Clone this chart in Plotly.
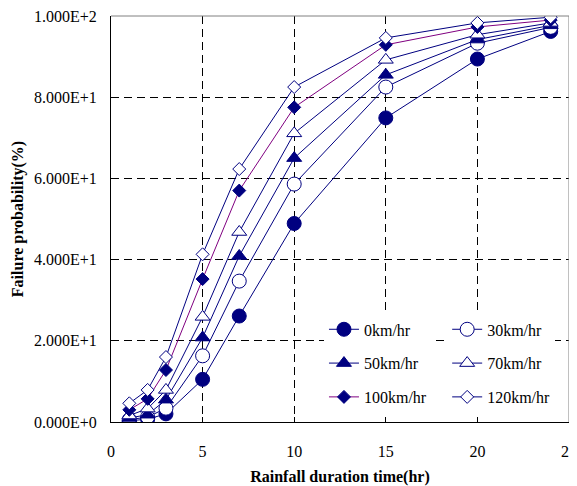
import plotly.graph_objects as go

hours = [1, 2, 3, 5, 7, 10, 15, 20, 24]
p_0 = [0.3, 0.7, 2.0, 10.5, 26.1, 48.9, 74.9, 89.4, 96.2]
p_30 = [0.6, 1.2, 3.4, 16.3, 34.7, 58.6, 82.5, 93.3, 97.2]
p_50 = [1.0, 1.8, 5.5, 20.8, 40.9, 65.0, 85.5, 94.2, 97.7]
p_70 = [1.6, 3.3, 7.9, 25.9, 46.8, 71.1, 89.2, 95.4, 98.3]
p_100 = [3.0, 5.7, 12.8, 35.2, 57.0, 77.5, 92.9, 97.3, 99.0]
p_120 = [4.6, 7.9, 16.0, 41.3, 62.3, 82.5, 94.6, 98.3, 99.7]
names = ["0km/hr", "30km/hr", "50km/hr", "70km/hr", "100km/hr", "120km/hr"]
y_ticks = [0, 20, 40, 60, 80, 100]
y_tick_labels = ["0.000E+0", "2.000E+1", "4.000E+1", "6.000E+1", "8.000E+1", "1.000E+2"]
x_ticks = [0, 5, 10, 15, 20, 25]

NAVY = "#000080"
PURPLE = "#800080"
FONT = "Liberation Serif"

series = [
    (names[0], p_0, "circle", NAVY, NAVY, "legend"),
    (names[1], p_30, "circle", "white", NAVY, "legend2"),
    (names[2], p_50, "triangle-up", NAVY, NAVY, "legend"),
    (names[3], p_70, "triangle-up", "white", NAVY, "legend2"),
    (names[4], p_100, "diamond", NAVY, PURPLE, "legend"),
    (names[5], p_120, "diamond", "white", NAVY, "legend2"),
]
SIZES = {"circle": 14, "triangle-up": 13, "diamond": 10}

fig = go.Figure()
for nm, vals, sym, fill, lcol, leg in series:
    fig.add_trace(go.Scatter(
        x=hours, y=vals, name=nm, mode="lines+markers",
        line=dict(color=lcol, width=1),
        marker=dict(symbol=sym, size=SIZES[sym], color=fill,
                    line=dict(color=NAVY, width=1)),
        legend=leg, legendgroup=nm,
    ))

# gray top/right frame
fig.add_shape(type="line", xref="paper", yref="paper",
              x0=0, x1=1, y0=1, y1=1, line=dict(color="#808080", width=1))
fig.add_shape(type="line", xref="paper", yref="paper",
              x0=1, x1=1, y0=0, y1=1, line=dict(color="#808080", width=1))

legend_common = dict(bgcolor="white", borderwidth=0,
                     font=dict(family=FONT, size=16, color="black"),
                     tracegroupgap=10, xanchor="left", yanchor="top")

# page body has an 8px margin; figure is sized/placed to compensate
fig.update_layout(
    width=569, height=478,
    margin=dict(l=103, r=8, t=8, b=64),
    paper_bgcolor="white", plot_bgcolor="white",
    font=dict(family=FONT, size=16, color="black"),
    legend=dict(x=0.465, y=0.27, **legend_common),
    legend2=dict(x=0.734, y=0.27, **legend_common),
    xaxis=dict(
        range=[0, 25], tickvals=x_ticks, ticks="inside", ticklen=5,
        tickcolor="black", showline=True, linecolor="black", linewidth=1,
        showgrid=True, gridcolor="black", gridwidth=1, griddash="8px,5px",
        zeroline=False, tickfont=dict(family=FONT, size=16),
        automargin=False, ticklabeloverflow="allow", ticklabelstandoff=15,
        title=dict(text="<b>Rainfall duration time(hr)</b>",
                   font=dict(family=FONT, size=16), standoff=14),
    ),
    yaxis=dict(
        range=[0, 100], tickvals=y_ticks, ticktext=y_tick_labels,
        ticks="inside", ticklen=5, tickcolor="black",
        showline=True, linecolor="black", linewidth=1,
        showgrid=True, gridcolor="black", gridwidth=1, griddash="8px,5px",
        zeroline=False, tickfont=dict(family=FONT, size=16),
        automargin=False, ticklabeloverflow="allow", ticklabelstandoff=10,
        title=dict(text="<b>Failure probability(%)</b>",
                   font=dict(family=FONT, size=16), standoff=6),
    ),
)

fig.write_html("out.html")
